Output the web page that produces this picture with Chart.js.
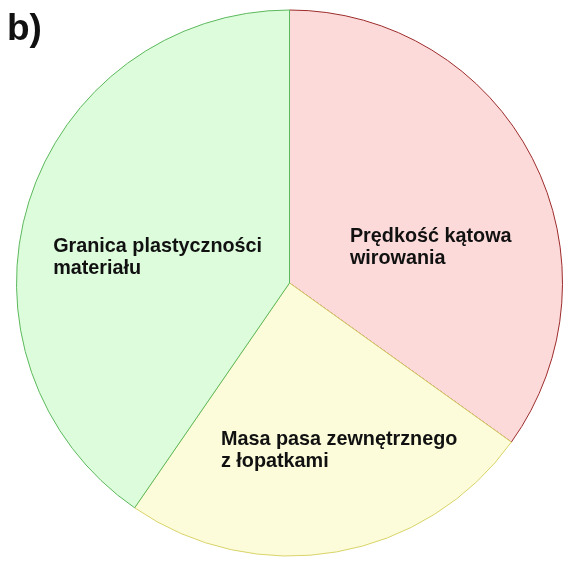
<!DOCTYPE html>
<html>
<head>
<meta charset="utf-8">
<script src="https://cdn.jsdelivr.net/npm/chart.js@4/dist/chart.umd.min.js"></script>
<style>
    html, body { margin: 0; padding: 0; background: #ffffff; }
    #wrap { position: relative; width: 583px; height: 575px; }
</style>
</head>
<body>
<div id="wrap"><canvas id="pieChart"></canvas></div>
<script>
    // data (clockwise from 12 o'clock)
    let sliceLabels = [
        ["Prędkość kątowa", "wirowania"],
        ["Masa pasa zewnętrznego", "z łopatkami"],
        ["Granica plastyczności", "materiału"]
    ];
    let sliceValues = [34.9, 24.7, 40.4];

    let fillColors = ["#fddada", "#fcfcda", "#dcfcdc"];
    let borderColors = ["#9c2b2b", "#d9d36a", "#5cb85c"];
    // label block shift from the slice centroid, in px
    let labelShift = [[-61, 21], [-92, 28], [-106, 10]];

    let sliceTextPlugin = {
        id: "sliceText",
        afterDatasetsDraw(chart) {
            let ctx = chart.ctx;
            let arcs = chart.getDatasetMeta(0).data;
            ctx.save();
            ctx.fillStyle = "#111111";
            ctx.font = "bold 19.8px 'Liberation Sans', Arial, sans-serif";
            ctx.textAlign = "left";
            ctx.textBaseline = "alphabetic";
            arcs.forEach(function(arc, i) {
                let pos = arc.tooltipPosition();
                let x = pos.x + labelShift[i][0];
                let y = pos.y + labelShift[i][1];
                sliceLabels[i].forEach(function(line, j) {
                    ctx.fillText(line, x, y + j * 22);
                });
            });
            ctx.font = "bold 37px 'Liberation Sans', Arial, sans-serif";
            ctx.fillText("b)", 7, 40);
            ctx.restore();
        }
    };

    let ctx = document.getElementById("pieChart");
    let pieChart = new Chart(ctx, {
        type: "pie",
        data: {
            labels: sliceLabels.map(l => l.join(" ")),
            datasets: [{
                data: sliceValues,
                backgroundColor: fillColors,
                borderColor: borderColors,
                borderWidth: 1
            }]
        },
        options: {
            responsive: true,
            maintainAspectRatio: false,
            animation: false,
            layout: { padding: { top: 9.5, bottom: 18.5, left: 16, right: 20 } },
            plugins: {
                legend: { display: false },
                tooltip: { enabled: false },
                title: { display: false }
            }
        },
        plugins: [sliceTextPlugin]
    });
</script>
</body>
</html>
